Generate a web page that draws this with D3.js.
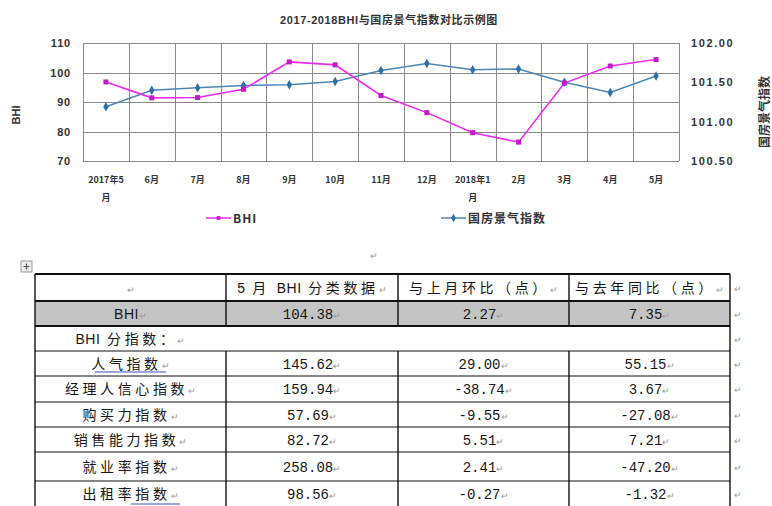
<!DOCTYPE html>
<html>
<head>
<meta charset="utf-8">
<script src="https://cdn.jsdelivr.net/npm/d3@7"></script>
<style>
  body { margin: 0; background: #fff; }
  svg { display: block; }
</style>
</head>
<body>
<svg id="chart" width="772" height="506"></svg>
<script>
// ---- chart data ----
const months = ["2017年5月", "6月", "7月", "8月", "9月", "10月", "11月", "12月",
                "2018年1月", "2月", "3月", "4月", "5月"];
const bhiValues = [96.8, 91.4, 91.5, 94.3, 103.6, 102.6, 92.2, 86.4, 79.6, 76.4, 96.4, 102.2, 104.38];
const housingValues = [101.19, 101.40, 101.43, 101.46, 101.47, 101.51, 101.65, 101.74,
                       101.66, 101.67, 101.50, 101.37, 101.58];
const leftTicks = [70, 80, 90, 100, 110];
const rightTicks = [100.5, 101.0, 101.5, 102.0];
const chartTitle = "2017-2018BHI与国房景气指数对比示例图";
const seriesNames = ["BHI", "国房景气指数"];

// ---- table data ----
const tableHeader = ["", "5 月 BHI 分类数据", "与上月环比（点）", "与去年同比（点）"];
const rowNames = ["BHI", "BHI 分指数：", "人气指数", "经理人信心指数", "购买力指数",
                  "销售能力指数", "就业率指数", "出租率指数"];
const mayValues = ["104.38", null, "145.62", "159.94", "57.69", "82.72", "258.08", "98.56"];
const momChange = ["2.27", null, "29.00", "-38.74", "-9.55", "5.51", "2.41", "-0.27"];
const yoyChange = ["7.35", null, "55.15", "3.67", "-27.08", "7.21", "-47.20", "-1.32"];

const svg = d3.select("#chart");
const latin = "'Liberation Sans', Arial, 'Noto Sans CJK SC', sans-serif";
const cjk = "'Noto Sans CJK SC', 'Liberation Sans', sans-serif";
const textCol = "#333";

// ---- chart geometry ----
const plot = { left: 83, right: 679, top: 43, bottom: 161 };
const x = d3.scaleBand().domain(months).range([plot.left, plot.right]);
const yL = d3.scaleLinear().domain([70, 110]).range([plot.bottom, plot.top]);
const yR = d3.scaleLinear().domain([100.5, 102]).range([plot.bottom, plot.top]);
const cx = d => x(d) + x.bandwidth() / 2;

svg.append("text")
  .attr("x", 389).attr("y", 24)
  .attr("text-anchor", "middle")
  .attr("font-family", latin).attr("font-size", 11).attr("font-weight", "bold")
  .attr("letter-spacing", 0.6)
  .attr("fill", textCol)
  .text(chartTitle);

// grid
const grid = svg.append("g").attr("stroke", "#8a8a8a").attr("stroke-width", 1);
grid.selectAll("line.h").data(leftTicks).join("line")
  .attr("x1", plot.left).attr("x2", plot.right)
  .attr("y1", d => Math.round(yL(d)) + 0.5).attr("y2", d => Math.round(yL(d)) + 0.5);
grid.selectAll("line.v").data(d3.range(months.length + 1)).join("line")
  .attr("y1", plot.top).attr("y2", plot.bottom)
  .attr("x1", i => Math.round(plot.left + i * x.step()) + 0.5)
  .attr("x2", i => Math.round(plot.left + i * x.step()) + 0.5);

// left axis
const axL = svg.append("g").attr("transform", `translate(${plot.left - 12},0)`)
  .call(d3.axisLeft(yL).tickValues(leftTicks).tickSize(0).tickPadding(0).tickFormat(d3.format("d")));
axL.select(".domain").remove();
axL.selectAll("text").attr("font-family", latin).attr("font-size", 11)
  .attr("font-weight", "bold").attr("letter-spacing", 0.8).attr("fill", textCol);

// right axis
const axR = svg.append("g").attr("transform", `translate(${plot.right + 12},0)`)
  .call(d3.axisRight(yR).tickValues(rightTicks).tickSize(0).tickPadding(0).tickFormat(d3.format(".2f")));
axR.select(".domain").remove();
axR.selectAll("text").attr("font-family", latin).attr("font-size", 11)
  .attr("font-weight", "bold").attr("letter-spacing", 1.6).attr("fill", textCol);

// bottom axis, long month labels wrap onto a second line
const axB = svg.append("g").attr("transform", `translate(0,${plot.bottom})`)
  .call(d3.axisBottom(x).tickSize(0).tickPadding(0));
axB.select(".domain").remove();
axB.selectAll("text").each(function(d) {
  const t = d3.select(this).text("")
    .attr("font-family", cjk).attr("font-size", 9).attr("font-weight", "bold")
    .attr("fill", textCol).attr("y", 22).attr("dy", null);
  const lines = d.length > 4 ? [d.slice(0, -1), d.slice(-1)] : [d];
  lines.forEach((s, i) => t.append("tspan").attr("x", 0).attr("dy", i ? 18 : 0).text(s));
});

// axis titles
svg.append("text")
  .attr("transform", "translate(20,115) rotate(-90)")
  .attr("text-anchor", "middle")
  .attr("font-family", latin).attr("font-size", 11).attr("font-weight", "bold")
  .attr("fill", textCol).text(seriesNames[0]);
svg.append("text")
  .attr("transform", "translate(769,112) rotate(-90)")
  .attr("text-anchor", "middle")
  .attr("font-family", cjk).attr("font-size", 12).attr("font-weight", "bold")
  .attr("fill", textCol).text(seriesNames[1]);

// series
const bhiColor = "#ee2aee", bhiMark = "#c21ac8";
const houseColor = "#4b87b6", houseMark = "#2e6fa6";

const lineL = d3.line().x((d, i) => cx(months[i])).y(d => yL(d));
const lineR = d3.line().x((d, i) => cx(months[i])).y(d => yR(d));

svg.append("path").datum(housingValues).attr("d", lineR)
  .attr("fill", "none").attr("stroke", houseColor).attr("stroke-width", 1.5);
svg.append("path").datum(bhiValues).attr("d", lineL)
  .attr("fill", "none").attr("stroke", bhiColor).attr("stroke-width", 1.6);

svg.selectAll("path.hm").data(housingValues).join("path")
  .attr("d", d3.symbol(d3.symbolDiamond, 26))
  .attr("transform", (d, i) => `translate(${cx(months[i])},${yR(d)})`)
  .attr("fill", houseMark);
svg.selectAll("rect.bm").data(bhiValues).join("rect")
  .attr("x", (d, i) => cx(months[i]) - 2.5).attr("y", d => yL(d) - 2.5)
  .attr("width", 5).attr("height", 5).attr("fill", bhiMark);

// legend
const legend = [
  { name: seriesNames[0], x: 206, line: bhiColor, mark: bhiMark, square: true },
  { name: seriesNames[1], x: 441, line: houseColor, mark: houseMark, square: false }
];
const lg = svg.selectAll("g.lg").data(legend).join("g")
  .attr("transform", d => `translate(${d.x},218)`);
lg.append("line").attr("x1", 0).attr("x2", 25)
  .attr("stroke", d => d.line).attr("stroke-width", 1.5);
lg.append("path")
  .attr("d", d => d3.symbol(d.square ? d3.symbolSquare : d3.symbolDiamond, d.square ? 14 : 20)())
  .attr("transform", "translate(12.5,0)").attr("fill", d => d.mark);
lg.append("text").attr("x", 27).attr("y", 4.5)
  .attr("font-family", cjk).attr("font-size", 12).attr("font-weight", "bold")
  .attr("letter-spacing", 1).attr("fill", textCol).text(d => d.name);

// ---- table ----
const colX = [35, 226, 398, 569, 730];
const rowY = [274, 301, 326, 351, 376, 402, 427, 452, 481, 507];
const mark = "↵";
const markCol = "#9a9a9a";
const tbl = svg.append("g");

// shaded BHI row
tbl.append("rect").attr("x", colX[0]).attr("y", rowY[1])
  .attr("width", colX[4] - colX[0]).attr("height", rowY[2] - rowY[1]).attr("fill", "#c4c4c4");

// borders
const thick = new Set([0, 1, 2]);
rowY.forEach((y, i) => {
  tbl.append("line").attr("x1", colX[0]).attr("x2", colX[4]).attr("y1", y).attr("y2", y)
    .attr("stroke", "#111").attr("stroke-width", thick.has(i) ? 2 : 1.2);
});
colX.forEach((xv, i) => {
  const segs = (i === 0 || i === 4) ? [[rowY[0], rowY[9]]]
    : [[rowY[0], rowY[2]], [rowY[3], rowY[9]]];
  segs.forEach(([a, b]) => tbl.append("line").attr("x1", xv).attr("x2", xv)
    .attr("y1", a).attr("y2", b).attr("stroke", "#111").attr("stroke-width", 1.4));
});

// CJK runs are spaced out, Latin runs stay tight
function cellText(str, xc, yc, isNum) {
  const t = tbl.append("text").attr("x", xc).attr("y", yc + 5)
    .attr("text-anchor", "middle")
    .attr("font-size", 14).attr("fill", "#161616");
  if (isNum) {
    t.attr("font-family", "'Liberation Mono', 'DejaVu Sans Mono', monospace");
    t.append("tspan").text(str);
  } else {
    t.attr("font-family", cjk);
    str.split(/([A-Za-z0-9]+)/).filter(s => s.length).forEach(s => {
      const isLatin = /^[A-Za-z0-9]+$/.test(s);
      t.append("tspan")
        .attr("font-family", isLatin ? "'Liberation Sans', Arial, sans-serif" : cjk)
        .attr("letter-spacing", isLatin ? 0.5 : 3.6)
        .text(s);
    });
  }
  t.append("tspan").attr("font-family", cjk).attr("font-size", 9)
    .attr("letter-spacing", 0).attr("fill", markCol).text(mark);
  return t;
}

const colMid = i => (colX[i] + colX[i + 1]) / 2;
const rowMid = i => (rowY[i] + rowY[i + 1]) / 2;

tableHeader.forEach((h, c) => cellText(h, colMid(c), rowMid(0), false));
rowNames.forEach((name, r) => {
  const ri = r + 1;
  cellText(name, colMid(0), rowMid(ri), false);
  [mayValues, momChange, yoyChange].forEach((arr, c) => {
    if (arr[r] !== null) cellText(arr[r], colMid(c + 1), rowMid(ri), true);
  });
});

// end-of-row marks and proofing underlines
rowY.slice(0, -1).forEach((y, i) => {
  tbl.append("text").attr("x", colX[4] + 4).attr("y", rowMid(i) + 4)
    .attr("font-family", cjk).attr("font-size", 9).attr("fill", markCol).text(mark);
});
tbl.append("text").attr("x", 370).attr("y", 259)
  .attr("font-family", cjk).attr("font-size", 9).attr("fill", markCol).text(mark);
tbl.append("line").attr("x1", 95).attr("x2", 166).attr("y1", 372).attr("y2", 372)
  .attr("stroke", "#3a4fc0").attr("stroke-width", 1.2);
tbl.append("line").attr("x1", 131).attr("x2", 180).attr("y1", 504).attr("y2", 504)
  .attr("stroke", "#3a4fc0").attr("stroke-width", 1.2);

// table move handle
const handle = svg.append("g").attr("transform", "translate(21,261)");
handle.append("rect").attr("width", 11).attr("height", 11)
  .attr("fill", "#ececec").attr("stroke", "#9a9a9a");
handle.append("path").attr("d", "M5.5,2.5V8.5M2.5,5.5H8.5")
  .attr("stroke", "#555").attr("stroke-width", 1.2);
</script>
</body>
</html>
